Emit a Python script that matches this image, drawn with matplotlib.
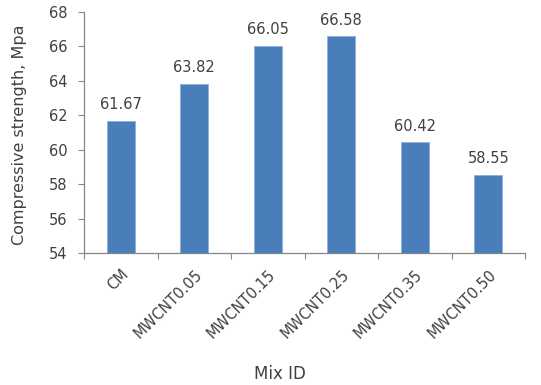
import matplotlib
matplotlib.use("Agg")
import matplotlib.pyplot as plt
from matplotlib.transforms import ScaledTranslation

categories = ["CM", "MWCNT0.05", "MWCNT0.15", "MWCNT0.25", "MWCNT0.35", "MWCNT0.50"]
strength = [61.67, 63.82, 66.05, 66.58, 60.42, 58.55]
yticks = [54, 56, 58, 60, 62, 64, 66, 68]

plt.rcParams['font.family'] = ['DejaVu Sans']

fig = plt.figure(figsize=(5.41, 3.85), dpi=100)
ax = fig.add_axes([84/541, 1-253/385, (525-84)/541, (253-12)/385])

x = list(range(len(categories)))
ax.bar(x, [v - 54 for v in strength], bottom=54, width=0.38,
       color="#4A7EBB", edgecolor="#8CB0DC", linewidth=0.6, zorder=3)
for xi, v in zip(x, strength):
    ax.text(xi, v + 0.5, f"{v:.2f}", ha="center", va="bottom",
            fontsize=10.5, color="#404040")

ax.set_ylim(54, 68)
ax.set_yticks(yticks)
ax.set_xlim(-0.5, len(categories) - 0.5)
ax.set_xticks([i - 0.5 for i in range(len(categories) + 1)], minor=False)
ax.set_xticklabels([])
ax.set_xticks(x, minor=True)
labels = ax.set_xticklabels(categories, minor=True, rotation=45, ha="right",
                            rotation_mode="anchor", fontsize=10.5, color="#404040")
offset = ScaledTranslation(6/100, 0, fig.dpi_scale_trans)
for lab in labels:
    lab.set_transform(lab.get_transform() + offset)
ax.tick_params(axis="x", which="minor", length=0, pad=10)
ax.tick_params(axis="x", which="major", length=4, color="#868686", direction="out")
ax.tick_params(axis="y", length=4, color="#868686", labelsize=10.5,
               labelcolor="#404040", direction="out", pad=8)

for s in ["top", "right"]:
    ax.spines[s].set_visible(False)
for s in ["left", "bottom"]:
    ax.spines[s].set_color("#868686")
    ax.spines[s].set_linewidth(0.9)

fig.text(20/541, 1-135/385, "Compressive strength, Mpa", rotation=90,
         ha="center", va="center", fontsize=11.5, color="#404040")
fig.text(280/541, 1-374/385, "Mix ID", ha="center", va="center",
         fontsize=12, color="#404040")

fig.savefig("out.png", dpi=100)
